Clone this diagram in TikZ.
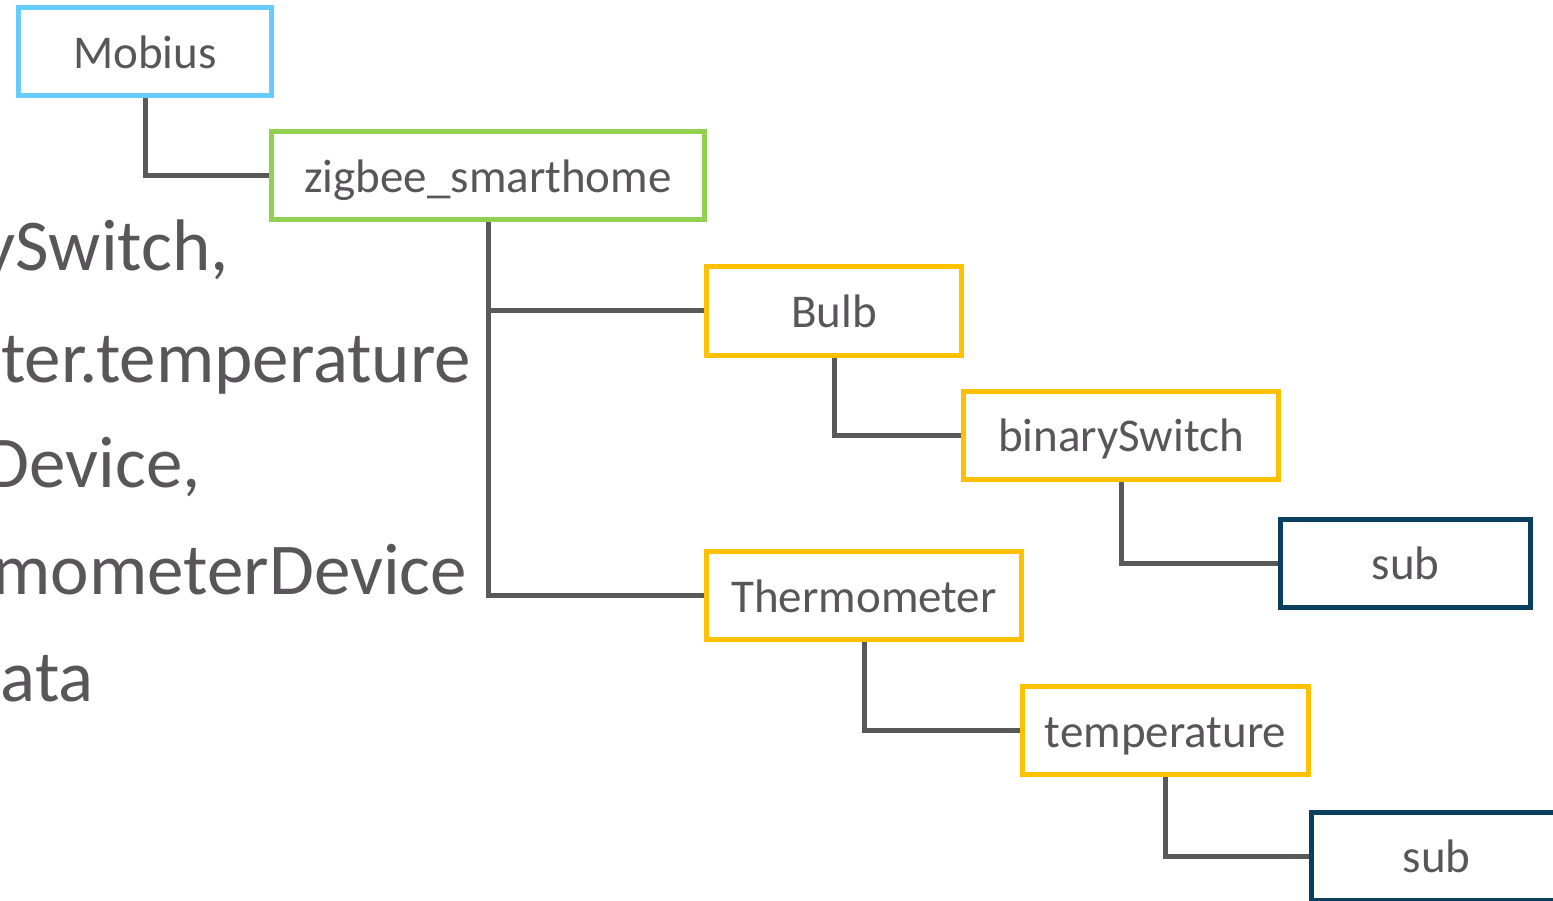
\documentclass[tikz,border=0pt]{standalone}
\usepackage{fontspec}
\setmainfont{Carlito}
\usetikzlibrary{backgrounds}
\definecolor{txtgray}{HTML}{595559}
\definecolor{lngray}{HTML}{595959}
\definecolor{cblue}{HTML}{66CCFF}
\definecolor{cgreen}{HTML}{92D050}
\definecolor{cyellow}{HTML}{FFC000}
\definecolor{cnavy}{HTML}{0B3F5F}
\tikzset{
  box/.style={draw, line width=5pt, fill=white, inner sep=0pt, minimum height=88pt,
    text height=33pt, text depth=0pt, text=txtgray,
    font=\fontsize{47}{56}\selectfont},
  conn/.style={draw=lngray, line width=5pt},
  bigtxt/.style={anchor=base east, inner sep=0pt, text=txtgray,
    font=\fontsize{73}{88}\selectfont}
}
\begin{document}
\begin{tikzpicture}[x=1pt,y=-1pt]
\useasboundingbox (0,0) rectangle (1553,901);
\clip (0,0) rectangle (1553,901);
% left text
\node[bigtxt] (l1) at (229,271) {ySwitch,};
\node[bigtxt] (l2) at (471,382) {ter.temperature};
\node[bigtxt] (l3) at (201,487) {Device,};
\node[bigtxt] (l4) at (467,594) {mometerDevice};
\node[bigtxt] (l5) at (94,701) {ata};
% boxes
\node[box, draw=cblue, minimum width=253pt] (mobius) at (145,52) {Mobius};
\node[box, draw=cgreen, minimum width=433pt] (zigbee) at (488,176) {zigbee\_smarthome};
\node[box, draw=cyellow, minimum width=255pt] (bulb) at (834,311) {Bulb};
\node[box, draw=cyellow, minimum width=315pt] (bswitch) at (1121,435) {binarySwitch};
\node[box, draw=cnavy, minimum width=250pt] (sub1) at (1405.5,563) {sub};
\node[box, draw=cyellow, minimum width=315pt] (thermo) at (864,595.5) {Thermometer};
\node[box, draw=cyellow, minimum width=286pt] (temp) at (1165.5,730.5) {temperature};
\node[box, draw=cnavy, minimum width=250pt] (sub2) at (1436.5,856) {sub};
% background and connectors
\begin{scope}[on background layer]
\fill[white] (0,0) rectangle (1553,901);
\draw[conn] (mobius.south) |- (zigbee.west);
\draw[conn] (zigbee.south) |- (bulb.west);
\draw[conn] (zigbee.south) |- (thermo.west);
\draw[conn] (bulb.south) |- (bswitch.west);
\draw[conn] (bswitch.south) |- (sub1.west);
\draw[conn] (thermo.south) |- (temp.west);
\draw[conn] (temp.south) |- (sub2.west);
\end{scope}
\end{tikzpicture}
\end{document}
